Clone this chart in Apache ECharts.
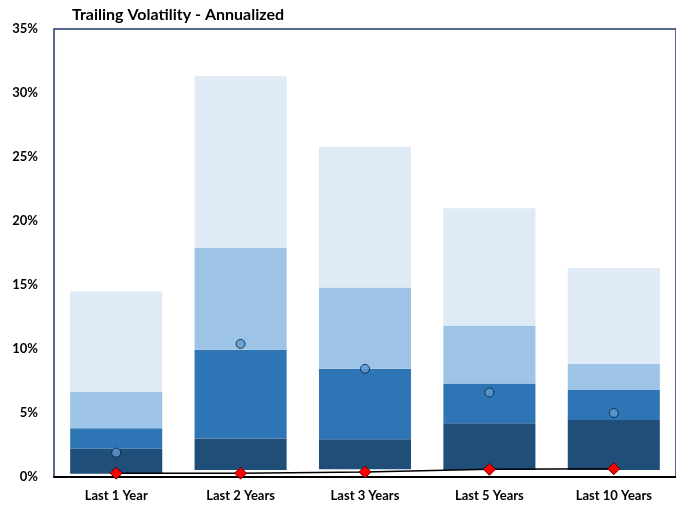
<!DOCTYPE html>
<html>
<head>
  <meta charset="utf-8">
  <title>Trailing Volatility - Annualized</title>
  <script src="https://cdn.jsdelivr.net/npm/echarts@6/dist/echarts.min.js"></script>
  <style>
    html, body { margin: 0; padding: 0; background: #fff; }
    #main { width: 676px; height: 506px; }
  </style>
</head>
<body>
  <div id="main"></div>
  <script>
    // categories and values (in %)
    var categories = ['Last 1 Year', 'Last 2 Years', 'Last 3 Years', 'Last 5 Years', 'Last 10 Years'];
    var barBottom = [0.26, 0.55, 0.6, 0.55, 0.55];   // where each bar starts
    var level1 = [2.2, 3.0, 2.95, 4.2, 4.45];       // top of dark band
    var level2 = [3.8, 9.95, 8.45, 7.3, 6.8];       // top of medium band
    var level3 = [6.65, 17.9, 14.8, 11.8, 8.85];    // top of light band
    var level4 = [14.5, 31.3, 25.8, 21.0, 16.3];    // top of palest band
    var circles = [1.9, 10.4, 8.45, 6.6, 5.0];
    var diamonds = [0.3, 0.3, 0.4, 0.6, 0.65];
    var yTicks = [0, 5, 10, 15, 20, 25, 30, 35];

    function diff(a, b) {
      return a.map(function (v, i) { return +(v - b[i]).toFixed(3); });
    }

    var font = 'Lato, "Open Sans", sans-serif';
    var chart = echarts.init(document.getElementById('main'));

    function band(name, data, color) {
      return {
        name: name, type: 'bar', stack: 'vol', barWidth: '74%',
        itemStyle: { color: color }, data: data, silent: true
      };
    }

    chart.setOption({
      animation: false,
      title: {
        text: 'Trailing Volatility - Annualized',
        left: 67, top: 2,
        textStyle: { fontFamily: font, fontWeight: 'bold', fontSize: 16, color: '#000' }
      },
      grid: {
        left: 54, top: 29, bottom: 29, right: -3,
        show: true, borderColor: '#203864', borderWidth: 1.5, backgroundColor: '#fff'
      },
      xAxis: {
        type: 'category', data: categories,
        axisLine: { lineStyle: { color: '#000', width: 2 } },
        axisTick: { show: false },
        axisLabel: { fontFamily: font, fontWeight: 'bold', fontSize: 13, color: '#000', margin: 12 }
      },
      yAxis: {
        type: 'value', min: yTicks[0], max: yTicks[yTicks.length - 1], interval: 5,
        axisLine: { show: false }, axisTick: { show: false }, splitLine: { show: false },
        axisLabel: { formatter: '{value}%', fontFamily: font, fontWeight: 'bold', fontSize: 13, color: '#000', margin: 16 }
      },
      series: [
        { name: 'base', type: 'bar', stack: 'vol', barWidth: '74%', itemStyle: { color: 'transparent' }, data: barBottom, silent: true },
        band('b1', diff(level1, barBottom), '#1f4e79'),
        band('b2', diff(level2, level1), '#2e75b6'),
        band('b3', diff(level3, level2), '#9dc3e6'),
        band('b4', diff(level4, level3), '#deeaf6'),
        {
          name: 'circle', type: 'scatter', data: circles, symbol: 'circle', symbolSize: 9, z: 5,
          itemStyle: { color: '#5b9bd5', borderColor: '#0d1a2a', borderWidth: 1 }
        },
        {
          name: 'diamond', type: 'line', data: diamonds, symbol: 'diamond', symbolSize: 12, z: 6,
          lineStyle: { color: '#000', width: 1.5 },
          itemStyle: { color: '#ff0000', borderColor: '#5a0000', borderWidth: 1 }
        }
      ]
    });
  </script>
</body>
</html>
